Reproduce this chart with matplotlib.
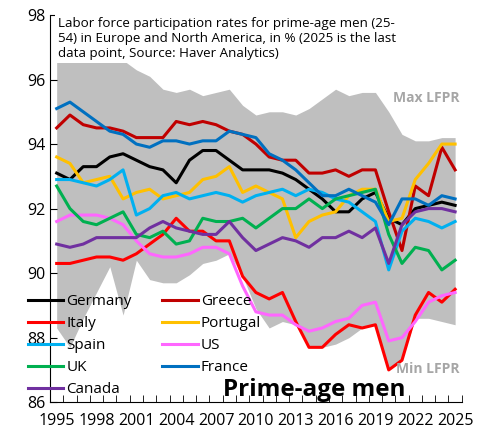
import matplotlib
matplotlib.use("Agg")
import matplotlib.pyplot as plt
import numpy as np

plt.rcParams['font.family'] = ['Open Sans', 'DejaVu Sans']

years = list(range(1995, 2026))
germany = [93.1,92.9,93.3,93.3,93.6,93.7,93.5,93.3,93.2,92.8,93.5,93.8,93.8,93.5,93.2,93.2,93.2,93.1,92.9,92.6,92.3,91.9,91.9,92.3,92.5,91.7,91.5,92.0,92.1,92.2,92.1]
greece = [94.5,94.9,94.6,94.5,94.5,94.4,94.2,94.2,94.2,94.7,94.6,94.7,94.6,94.4,94.3,94.0,93.6,93.5,93.5,93.1,93.1,93.2,93.0,93.2,93.2,91.9,90.7,92.7,92.4,93.9,93.2]
italy = [90.3,90.3,90.4,90.5,90.5,90.4,90.6,90.9,91.2,91.7,91.3,91.3,91.0,91.0,89.9,89.4,89.2,89.4,88.5,87.7,87.7,88.1,88.4,88.3,88.4,87.0,87.3,88.7,89.4,89.1,89.5]
portugal = [93.6,93.4,92.8,92.9,93.0,92.3,92.5,92.6,92.3,92.4,92.5,92.9,93.0,93.3,92.5,92.7,92.5,92.3,91.1,91.6,91.8,91.9,92.4,92.6,92.6,91.6,91.7,92.9,93.4,94.0,94.0]
spain = [92.9,92.9,92.8,92.7,92.9,93.2,91.8,92.0,92.4,92.5,92.3,92.4,92.5,92.4,92.2,92.4,92.5,92.6,92.4,92.6,92.5,92.3,92.2,91.9,91.6,90.1,91.3,91.7,91.6,91.4,91.6]
us = [91.6,91.8,91.8,91.8,91.7,91.5,91.0,90.6,90.5,90.5,90.6,90.8,90.8,90.6,89.6,88.8,88.7,88.7,88.4,88.2,88.3,88.5,88.6,89.0,89.1,87.9,88.0,88.5,89.1,89.3,89.4]
uk = [92.7,92.0,91.6,91.5,91.7,91.9,91.2,91.1,91.3,90.9,91.0,91.7,91.6,91.6,91.7,91.4,91.7,92.0,92.0,92.3,92.0,92.3,92.4,92.5,92.6,91.2,90.3,90.8,90.7,90.1,90.4]
france = [95.1,95.3,95.0,94.7,94.4,94.3,94.0,93.9,94.1,94.1,94.0,94.1,94.1,94.4,94.3,94.2,93.7,93.5,93.2,92.8,92.4,92.4,92.6,92.4,92.2,91.5,92.3,92.3,92.1,92.4,92.3]
canada = [90.9,90.8,90.9,91.1,91.1,91.1,91.1,91.4,91.6,91.4,91.3,91.2,91.2,91.6,91.1,90.7,90.9,91.1,91.0,90.8,91.1,91.1,91.3,91.1,91.4,90.3,91.5,91.9,92.0,92.0,91.9]
max_lfpr = [97.3,97.5,97.6,97.4,97.0,96.6,96.3,96.1,95.7,95.6,95.7,95.5,95.6,95.7,95.2,94.9,95.0,95.0,94.9,95.1,95.4,95.7,95.5,95.6,95.6,95.0,94.3,94.1,94.1,94.2,94.2]
min_lfpr = [88.3,87.7,88.6,89.4,90.2,88.7,90.4,89.8,89.7,89.7,89.95,90.3,90.4,90.6,89.9,88.9,88.3,88.5,88.4,87.7,87.7,87.8,88.0,88.3,88.4,87.0,87.3,88.6,88.6,88.5,88.4]

series = [("Germany", germany, "#000000"), ("Greece", greece, "#C00000"),
          ("Italy", italy, "#FF0000"), ("Portugal", portugal, "#FFC000"),
          ("Spain", spain, "#00B0F0"), ("US", us, "#FF66FF"),
          ("UK", uk, "#00B050"), ("France", france, "#0070C0"),
          ("Canada", canada, "#7030A0")]

fig = plt.figure(figsize=(4.81, 4.41), dpi=100)
ax = fig.add_axes([0.104, 0.088, 0.856, 0.878])
ax.fill_between(years, min_lfpr, max_lfpr, color="#BFBFBF", lw=0)
handles = {}
for name, vals, c in series:
    h, = ax.plot(years, vals, color=c, lw=2.2, label=name)
    handles[name] = h

ax.set_xlim(1994.5, 2025.5)
ax.set_ylim(86, 98)
ax.set_yticks(range(86, 99, 2))
ax.set_xticks(years[::3])
ax.set_xticks(np.arange(1994.5, 2026, 1), minor=True)
ax.tick_params(axis='x', which='major', length=0, labelsize=11.5, pad=8)
ax.tick_params(axis='x', which='minor', length=5, direction='in')
ax.tick_params(axis='y', length=5, direction='in', labelsize=11.5)
for s in ['top', 'right']:
    ax.spines[s].set_visible(False)

ax.text(0.02, 0.995, "Labor force participation rates for prime-age men (25-\n54) in Europe and North America, in % (2025 is the last\ndata point, Source: Haver Analytics)",
        transform=ax.transAxes, va='top', ha='left', fontsize=9.6, linespacing=1.2,
        bbox=dict(facecolor='white', edgecolor='none', pad=2))
ax.text(2025.3, 95.3, "Max LFPR", color="#A6A6A6", fontweight='bold', ha='right', fontsize=10)
ax.text(2025.3, 86.9, "Min LFPR", color="#A6A6A6", fontweight='bold', ha='right', fontsize=10)
ax.text(2021.3, 86.2, "Prime-age men", fontweight='bold', ha='right', fontsize=17.5)

order = ["Germany", "Italy", "Spain", "UK", "Canada", "Greece", "Portugal", "US", "France"]
ax.legend([handles[n] for n in order], order, ncol=2, loc='lower left',
          bbox_to_anchor=(-0.075, -0.01), frameon=False,
          fontsize=11, handlelength=2.3, handletextpad=0.2, columnspacing=2.0,
          labelspacing=0.45, borderaxespad=0.2)

fig.savefig("out.png", dpi=100)
